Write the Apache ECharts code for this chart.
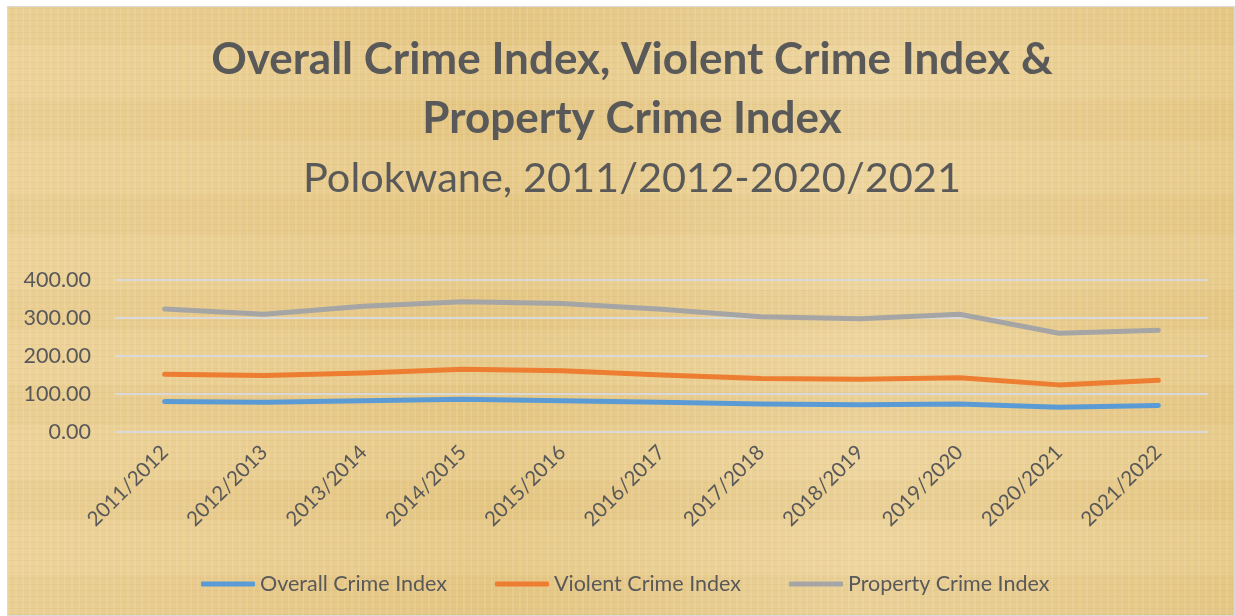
<!DOCTYPE html>
<html>
<head>
<meta charset="utf-8">
<title>Crime Index - Polokwane</title>
<script src="https://cdn.jsdelivr.net/npm/echarts@6/dist/echarts.min.js"></script>
<style>
    html, body { margin: 0; padding: 0; background: #ffffff; }
    .frame {
        position: absolute; left: 7px; top: 6px; width: 1228px; height: 610px;
        box-sizing: border-box; border: 1px solid #d9d9d9;
        background-color: #e8ca8c;
        background-image:
            repeating-linear-gradient(90deg, rgba(255,255,255,0.10) 0px, rgba(255,255,255,0.10) 2px, rgba(0,0,0,0) 2px, rgba(0,0,0,0) 7px),
            repeating-linear-gradient(0deg, rgba(180,140,60,0.09) 0px, rgba(180,140,60,0.09) 1px, rgba(0,0,0,0) 1px, rgba(0,0,0,0) 6px),
            repeating-linear-gradient(0deg, rgba(200,160,80,0.05) 0px, rgba(200,160,80,0.05) 40px, rgba(255,240,200,0.06) 40px, rgba(255,240,200,0.06) 95px),
            linear-gradient(90deg, rgba(240,215,160,0.5), rgba(225,195,120,0.3) 40%, rgba(240,220,170,0.5) 70%, rgba(228,198,125,0.3));
    }
    #chart { position: absolute; left: 0; top: 0; width: 1235px; height: 616px; }
</style>
</head>
<body>
<div class="frame"></div>
<div id="chart"></div>
<script>
// 类目与数据
var categories = ['2011/2012', '2012/2013', '2013/2014', '2014/2015', '2015/2016', '2016/2017',
                  '2017/2018', '2018/2019', '2019/2020', '2020/2021', '2021/2022'];
var overallCrime = [80, 78, 82, 86, 82, 78, 74, 72, 74, 65, 70];
var violentCrime = [152, 149, 155, 165, 161, 150, 141, 139, 143, 124, 136];
var propertyCrime = [324, 310, 331, 343, 338, 323, 303, 298, 310, 260, 268];
var seriesNames = ['Overall Crime Index', 'Violent Crime Index', 'Property Crime Index'];
var seriesColors = ['#5b9bd5', '#ed7d31', '#a5a5a5'];

var textColor = '#595959';
var font = 'Lato, "Open Sans", sans-serif';

function makeLine(name, data, color) {
    return {
        name: name,
        type: 'line',
        data: data,
        symbol: 'none',
        smooth: false,
        lineStyle: { width: 5, color: color, cap: 'round', join: 'round' },
        itemStyle: { color: color }
    };
}

var option = {
    backgroundColor: 'transparent',
    animation: false,
    title: {
        text: 'Overall Crime Index, Violent Crime Index &\nProperty Crime Index',
        subtext: 'Polokwane, 2011/2012-2020/2021',
        left: 627,
        textAlign: 'center',
        top: 25,
        itemGap: 4,
        textStyle: { color: textColor, fontFamily: font, fontWeight: 'bold', fontSize: 44, lineHeight: 59 },
        subtextStyle: { color: textColor, fontFamily: font, fontWeight: 'normal', fontSize: 41.5, lineHeight: 54 }
    },
    legend: {
        bottom: 16,
        left: 196,
        itemGap: 48,
        itemWidth: 54,
        itemHeight: 5,
        icon: 'roundRect',
        textStyle: { color: textColor, fontFamily: font, fontSize: 21.5 },
        data: seriesNames
    },
    grid: { left: 115, right: 27, top: 280, bottom: 184 },
    xAxis: {
        type: 'category',
        data: categories,
        boundaryGap: true,
        axisLine: { show: false },
        axisTick: { show: false },
        axisLabel: { rotate: 45, margin: 17, color: textColor, fontFamily: font, fontSize: 20.5 }
    },
    yAxis: {
        type: 'value',
        min: 0,
        max: 400,
        interval: 100,
        axisLine: { show: false },
        axisTick: { show: false },
        axisLabel: {
            margin: 24, color: textColor, fontFamily: font, fontSize: 21.5,
            formatter: function (v) { return v.toFixed(2); }
        },
        splitLine: { lineStyle: { color: '#d9d9d9', width: 2 } }
    },
    series: [
        makeLine(seriesNames[0], overallCrime, seriesColors[0]),
        makeLine(seriesNames[1], violentCrime, seriesColors[1]),
        makeLine(seriesNames[2], propertyCrime, seriesColors[2])
    ]
};

var myChart = echarts.init(document.getElementById('chart'));
myChart.setOption(option);
</script>
</body>
</html>
